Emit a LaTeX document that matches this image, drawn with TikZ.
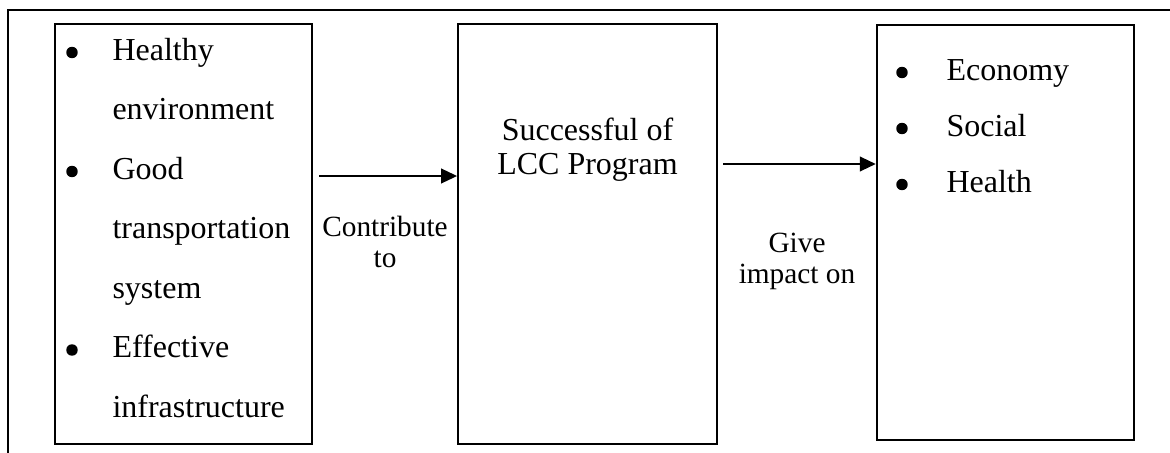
\documentclass[tikz,border=0pt]{standalone}
\usepackage{fontspec}
\setmainfont{Liberation Serif}
\usetikzlibrary{arrows.meta}
\tikzset{
  blk/.style={draw, line width=0.8pt, inner sep=0pt, minimum width=96.5pt},
  itm/.style={anchor=base west, inner sep=0pt, font=\fontsize{12}{14}\selectfont},
  ctr/.style={anchor=base, inner sep=0pt, font=\fontsize{12}{14}\selectfont},
  dot/.style={circle, fill, inner sep=0pt, minimum size=4.3pt},
  lbl/.style={anchor=base, inner sep=0pt, font=\fontsize{11}{13}\selectfont},
  arr/.style={line width=0.75pt, -{Triangle[length=6pt,width=5.5pt]}}
}
\begin{document}
\begin{tikzpicture}[x=0.375pt, y=-0.375pt]
        \useasboundingbox (0,0) rectangle (1170,453);
        % outer frame
        \draw[line width=0.6pt] (8,453) -- (8,10) -- (1170,10);
        % boxes
        \node[blk, minimum height=157.5pt] (causes) at (183.5,234) {};
        \node[blk, minimum width=97pt, minimum height=157.5pt] (lcc) at (587.5,234) {};
        \node[blk, minimum height=155.6pt] (impact) at (1005.5,232.5) {};
        % left list
        \node[dot] (b1) at (72,52.5) {};
        \node[itm] (t1) at (112,60) {Healthy};
        \node[itm] (t2) at (112,119.5) {environment};
        \node[dot] (b2) at (72,171.5) {};
        \node[itm] (t3) at (112,179) {Good};
        \node[itm] (t4) at (112,238.5) {transportation};
        \node[itm] (t5) at (112,298) {system};
        \node[dot] (b3) at (72,350) {};
        \node[itm] (t6) at (112,357.5) {Effective};
        \node[itm] (t7) at (112,417) {infrastructure};
        % middle text
        \node[ctr] (m1) at (587.5,140) {Successful of};
        \node[ctr] (m2) at (587.5,174) {LCC Program};
        % right list
        \node[dot] (r1) at (902,72.5) {};
        \node[itm] (e1) at (946,80) {Economy};
        \node[dot] (r2) at (902,128.5) {};
        \node[itm] (e2) at (946,136) {Social};
        \node[dot] (r3) at (902,184.5) {};
        \node[itm] (e3) at (946,192) {Health};
        % connectors
        \coordinate (s1) at (319,176);
        \coordinate (s2) at (723,164);
        \draw[arr] (s1) -- (s1 -| lcc.west);
        \draw[arr] (s2) -- (s2 -| impact.west);
        \node[lbl] (c1) at (385,236) {Contribute};
        \node[lbl] (c2) at (385,267) {to};
        \node[lbl] (g1) at (797,252) {Give};
        \node[lbl] (g2) at (797,283) {impact on};
\end{tikzpicture}
\end{document}
